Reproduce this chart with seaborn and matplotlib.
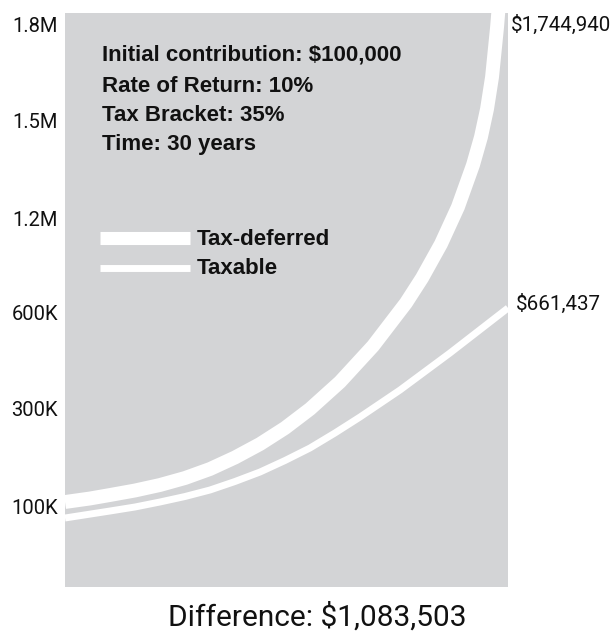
import matplotlib
matplotlib.use("Agg")
import matplotlib.pyplot as plt
import seaborn as sns
import pandas as pd

# ---- data (y values are positions on the chart's own scale) ----
years_deferred = [0, 1.69, 3.05, 4.74, 6.43, 8.13, 9.82, 11.51, 13.21, 14.9, 16.59, 18.62,
                  20.86, 23.09, 24.18, 25.46, 26.61, 27.63, 28.17, 28.58, 28.92, 29.26, 29.59, 30]
deferred_pos = [85, 88.5, 92, 96.5, 102, 109, 118, 129.5, 143, 159, 178, 205,
                241, 284, 309, 343, 380, 422, 450, 478, 510, 560, 620, 700]
years_taxable = [0, 3.05, 4.74, 6.43, 8.13, 9.82, 11.51, 13.21, 14.9, 16.59, 18.28,
                 19.98, 22.69, 26.07, 30]
taxable_pos = [69, 76, 80, 85, 90.5, 97, 105.5, 115, 126.5, 139, 154,
               170, 197, 234, 279]

tick_pos = [80, 179, 274, 369, 466, 562]
tick_labels = ["100K", "300K", "600K", "1.2M", "1.5M", "1.8M"]

info_lines = ["Initial contribution: $100,000", "Rate of Return: 10%", "Tax Bracket: 35%", "Time: 30 years"]
series_names = ["Tax-deferred", "Taxable"]
end_labels = ["$1,744,940", "$661,437"]
footer = "Difference: $1,083,503"

GREY = "#d3d4d6"
INK = "#111111"
BOLD_FAM = ["Liberation Sans", "DejaVu Sans"]

plt.rcParams["font.family"] = ["Roboto", "DejaVu Sans"]

W, H = 616, 635
fig = plt.figure(figsize=(W / 100, H / 100), dpi=100)
ax_l, ax_r, ax_t, ax_b = 65, 508, 13, 587
ax = fig.add_axes([ax_l / W, 1 - ax_b / H, (ax_r - ax_l) / W, (ax_b - ax_t) / H])
ax.set_facecolor(GREY)

df_def = pd.DataFrame({"year": years_deferred, "pos": deferred_pos})
df_tax = pd.DataFrame({"year": years_taxable, "pos": taxable_pos})
sns.lineplot(data=df_def, x="year", y="pos", ax=ax, color="white", linewidth=10,
             solid_capstyle="butt", solid_joinstyle="round")
sns.lineplot(data=df_tax, x="year", y="pos", ax=ax, color="white", linewidth=5,
             solid_capstyle="butt", solid_joinstyle="round")

ax.set_xlim(0, 30)
ax.set_ylim(0, ax_b - ax_t)
ax.set_xticks([])
ax.set_yticks(tick_pos)
ax.set_yticklabels(tick_labels, fontsize=14.5, color=INK)
ax.tick_params(axis="y", length=0, pad=5)
ax.set_xlabel("")
ax.set_ylabel("")
for s in ax.spines.values():
    s.set_visible(False)

def fx(px):
    return (px - ax_l) / (ax_r - ax_l)

def fy(py):
    return (ax_b - py) / (ax_b - ax_t)

# info block
for line, base in zip(info_lines, [61, 92, 121, 150]):
    ax.text(fx(102), fy(base), line, transform=ax.transAxes, fontsize=16,
            fontweight="bold", family=BOLD_FAM, color=INK, va="baseline", ha="left")

# legend (manual)
ax.plot([fx(100), fx(190)], [fy(237.5), fy(237.5)], transform=ax.transAxes,
        color="white", linewidth=9.4, solid_capstyle="butt")
ax.plot([fx(100), fx(190)], [fy(267.5), fy(267.5)], transform=ax.transAxes,
        color="white", linewidth=5, solid_capstyle="butt")
for name, base in zip(series_names, [245, 274]):
    ax.text(fx(197), fy(base), name, transform=ax.transAxes, fontsize=16,
            fontweight="bold", family=BOLD_FAM, color=INK, va="baseline", ha="left")

# end labels
ax.text(fx(511), fy(25), end_labels[0], transform=ax.transAxes, fontsize=14.8,
        color=INK, va="center", ha="left", clip_on=False)
ax.annotate(end_labels[1], xy=(years_taxable[-1], taxable_pos[-1]), xytext=(6, 3),
            textcoords="offset points", fontsize=14.8, color=INK, va="center",
            ha="left", annotation_clip=False)

fig.text(317 / W, 1 - 617 / H, footer, fontsize=21.5, color=INK, ha="center", va="center")

fig.savefig("out.png", dpi=100)
